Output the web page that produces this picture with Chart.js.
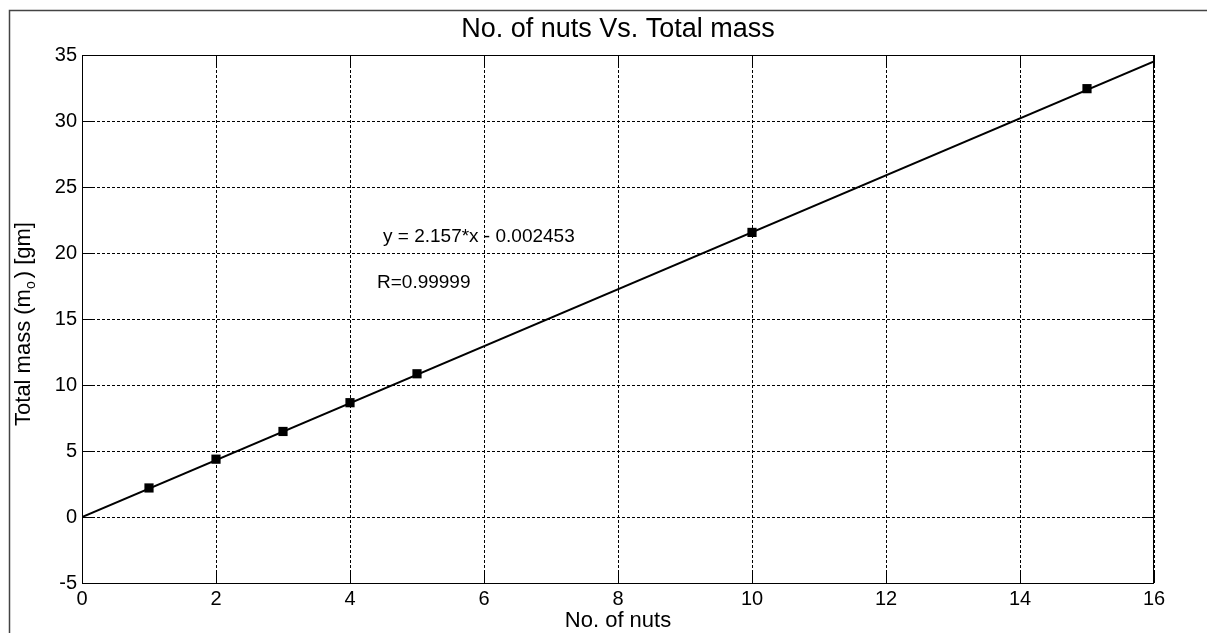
<!DOCTYPE html>
<html>
<head>
<meta charset="utf-8">
<script src="https://cdn.jsdelivr.net/npm/chart.js@4/dist/chart.umd.min.js"></script>
<style>
  html, body { margin: 0; padding: 0; background: #fff; }
  #wrap { width: 1207px; height: 633px; position: relative; }
</style>
</head>
<body>
<div id="wrap"><canvas id="chart" width="1207" height="633"></canvas></div>
<script>
const nuts = [1, 2, 3, 4, 5, 10, 15];
const totalMass = [2.2, 4.38, 6.48, 8.66, 10.85, 21.56, 32.45];

// recta de ajuste y = 2.157*x - 0.002453 (extremos)
const fitX = [0, 16];
const fitY = [-0.0025, 34.51];

const chartTitle = 'No. of nuts Vs. Total mass';
const xTitle = 'No. of nuts';
const fitText = 'y = 2.157*x - 0.002453';
const rText = 'R=0.99999';

const xMin = 0, xMax = 16, xStep = 2;
const yMin = -5, yMax = 35, yStep = 5;

const FONT = '"Liberation Sans", Arial, sans-serif';

// Dibuja titulo, marco, caja de ejes, marcas internas y textos
const decorPlugin = {
    id: 'decor',
    afterDraw(chart) {
        const ctx = chart.ctx;
        const { left, right, top, bottom } = chart.chartArea;
        const xs = chart.scales.x, ys = chart.scales.y;
        ctx.save();

        // marco exterior
        ctx.strokeStyle = '#444';
        ctx.lineWidth = 1.5;
        ctx.beginPath();
        ctx.moveTo(9.5, 633);
        ctx.lineTo(9.5, 10.5);
        ctx.lineTo(1207, 10.5);
        ctx.stroke();

        // caja de ejes
        ctx.strokeStyle = '#000';
        ctx.lineWidth = 1;
        ctx.strokeRect(left + 0.5, top + 0.5, right - left - 1, bottom - top);

        // marcas internas
        const tl = 11;
        ctx.beginPath();
        for (let v = xMin; v <= xMax; v += xStep) {
            const px = Math.round(xs.getPixelForValue(v)) + 0.5;
            ctx.moveTo(px, bottom); ctx.lineTo(px, bottom - tl);
            ctx.moveTo(px, top); ctx.lineTo(px, top + tl);
        }
        for (let v = yMin; v <= yMax; v += yStep) {
            const py = Math.round(ys.getPixelForValue(v)) + 0.5;
            ctx.moveTo(left, py); ctx.lineTo(left + tl, py);
            ctx.moveTo(right, py); ctx.lineTo(right - tl, py);
        }
        ctx.stroke();

        // titulo
        ctx.fillStyle = '#000';
        ctx.textAlign = 'center';
        ctx.textBaseline = 'alphabetic';
        ctx.font = '27px ' + FONT;
        ctx.fillText(chartTitle, (left + right) / 2, 37);

        // titulo eje x
        ctx.font = '22px ' + FONT;
        ctx.fillText(xTitle, (left + right) / 2, 627);

        // titulo eje y con subindice
        ctx.save();
        ctx.translate(30, 324);
        ctx.rotate(-Math.PI / 2);
        const partA = 'Total mass (m', partB = 'o', partC = ') [gm]';
        ctx.font = '22px ' + FONT;
        const wA = ctx.measureText(partA).width;
        const wC = ctx.measureText(partC).width;
        ctx.font = '14px ' + FONT;
        const wB = ctx.measureText(partB).width + 3;
        const total = wA + wB + wC;
        let x0 = -total / 2;
        ctx.textAlign = 'left';
        ctx.font = '22px ' + FONT;
        ctx.fillText(partA, x0, 0);
        ctx.font = '14px ' + FONT;
        ctx.fillText(partB, x0 + wA, 5);
        ctx.font = '22px ' + FONT;
        ctx.fillText(partC, x0 + wA + wB, 0);
        ctx.restore();

        // textos del ajuste
        ctx.textAlign = 'left';
        ctx.font = '19px ' + FONT;
        ctx.fillText(fitText, 383, 242);
        ctx.fillText(rText, 377, 288);

        ctx.restore();
    }
};

const ctx = document.getElementById('chart').getContext('2d');
new Chart(ctx, {
    type: 'scatter',
    data: {
        datasets: [
            {
                label: 'datos',
                data: nuts.map((n, i) => ({ x: n, y: totalMass[i] })),
                pointStyle: 'rect',
                pointRadius: 6.5,
                borderWidth: 0,
                backgroundColor: '#000',
                showLine: false,
                order: 1
            },
            {
                label: 'ajuste',
                data: fitX.map((x, i) => ({ x: x, y: fitY[i] })),
                showLine: true,
                borderColor: '#000',
                borderWidth: 2,
                pointRadius: 0,
                fill: false,
                order: 2
            }
        ]
    },
    options: {
        responsive: false,
        animation: false,
        devicePixelRatio: 1,
        layout: { padding: { top: 55, right: 53, left: 0, bottom: 0 } },
        plugins: {
            legend: { display: false },
            tooltip: { enabled: false }
        },
        scales: {
            x: {
                type: 'linear',
                min: xMin, max: xMax,
                afterFit: s => { s.height = 50; },
                ticks: { stepSize: xStep, color: '#000', padding: 4, maxRotation: 0, autoSkip: false, font: { family: FONT, size: 20 } },
                grid: { color: '#000', lineWidth: 1, drawTicks: false },
                border: { display: false, dash: [3, 2] }
            },
            y: {
                type: 'linear',
                min: yMin, max: yMax,
                afterFit: s => { s.width = 82; },
                ticks: { stepSize: yStep, color: '#000', padding: 5, autoSkip: false, font: { family: FONT, size: 20 } },
                grid: { color: '#000', lineWidth: 1, drawTicks: false },
                border: { display: false, dash: [3, 2] }
            }
        }
    },
    plugins: [decorPlugin]
});
</script>
</body>
</html>
